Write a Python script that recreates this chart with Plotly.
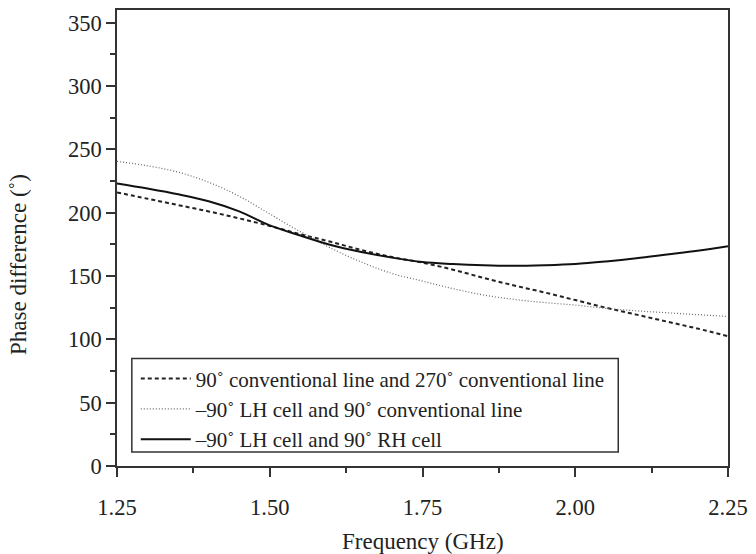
import plotly.graph_objects as go

freq = [1.25, 1.30, 1.35, 1.40, 1.45, 1.50, 1.55, 1.60, 1.65, 1.70, 1.75,
        1.80, 1.85, 1.90, 1.95, 2.00, 2.05, 2.10, 2.15, 2.20, 2.25]

conv_conv = [216, 211, 206, 201, 195.5, 189.5, 183, 177, 170.5, 165, 160.5,
             155, 148.5, 142.5, 137, 131, 125, 119.5, 114, 108.5, 102.5]
lh_conv = [240.5, 237, 232, 224, 213, 199, 185, 172, 161, 152, 146,
           140, 135, 131.5, 129, 127, 124.5, 122.5, 121, 119.5, 118]
lh_rh = [223, 219, 214.5, 209, 201, 190, 182, 174.5, 169, 164.5, 161,
         159.5, 158.5, 158, 158.5, 159.5, 161.5, 164, 167, 170, 173.5]

names = ["90\u02da conventional line and 270\u02da conventional line",
         "\u201390\u02da LH cell and 90\u02da conventional line",
         "\u201390\u02da LH cell and 90\u02da RH cell"]

x_ticks = [1.25, 1.50, 1.75, 2.00, 2.25]
x_labels = ["1.25", "1.50", "1.75", "2.00", "2.25"]
y_ticks = [0, 50, 100, 150, 200, 250, 300, 350]

FONT = "Liberation Serif"
AX = "#333333"
TXT = "#222222"

fig = go.Figure()
fig.add_trace(go.Scatter(x=freq, y=conv_conv, mode="lines", name=names[0],
                         line=dict(color="#222222", width=2, dash="4px,3px", shape="spline")))
fig.add_trace(go.Scatter(x=freq, y=lh_conv, mode="lines", name=names[1],
                         line=dict(color="#666666", width=1.2, dash="1px,2px", shape="spline")))
fig.add_trace(go.Scatter(x=freq, y=lh_rh, mode="lines", name=names[2],
                         line=dict(color="#111111", width=2, shape="spline")))

# legend frame (drawn as a shape so its size matches the reference)
fig.add_shape(type="rect", xref="paper", yref="paper",
              x0=(132 - 117) / 618, x1=(624 - 117) / 618,
              y0=(466 - 452) / 458, y1=(466 - 358) / 458,
              line=dict(color=AX, width=1.5), fillcolor="white", layer="below")

fig.add_annotation(text="Phase difference (\u02da)", xref="paper", yref="paper",
                   x=(18 - 117) / 618, y=(466 - 264) / 458, textangle=-90,
                   showarrow=False, xanchor="center", yanchor="middle",
                   font=dict(family=FONT, size=23, color=TXT))
fig.add_annotation(text="Frequency (GHz)", xref="paper", yref="paper",
                   x=0.5, y=(466 - 542) / 458, showarrow=False,
                   xanchor="center", yanchor="middle",
                   font=dict(family=FONT, size=23, color=TXT))

fig.update_layout(
    width=756, height=554,
    margin=dict(l=117, r=21, t=8, b=88),
    paper_bgcolor="white", plot_bgcolor="white",
    font=dict(family=FONT, color=TXT, size=21),
    showlegend=True,
    legend=dict(x=(136 - 117) / 618, y=0.236, xanchor="left", yanchor="top",
                bgcolor="rgba(0,0,0,0)", borderwidth=0,
                font=dict(family=FONT, size=21, color=TXT),
                itemwidth=50, tracegroupgap=0),
)
fig.update_xaxes(
    range=[1.25, 2.25], tickvals=x_ticks, ticktext=x_labels,
    showgrid=False, zeroline=False,
    showline=True, linecolor=AX, linewidth=1.5, mirror=True,
    ticks="outside", ticklen=9, tickwidth=1.5, tickcolor=AX,
    tickfont=dict(family=FONT, size=22.5, color=TXT),
    ticklabelstandoff=11,
    minor=dict(ticks="outside", ticklen=5, tickwidth=1.5, tickcolor=AX, dtick=0.125, tick0=1.25),
)
fig.update_yaxes(
    range=[0, 360], tickvals=y_ticks,
    showgrid=False, zeroline=False,
    showline=True, linecolor=AX, linewidth=1.5, mirror=True,
    ticks="outside", ticklen=9, tickwidth=1.5, tickcolor=AX,
    tickfont=dict(family=FONT, size=22.5, color=TXT),
    minor=dict(ticks="outside", ticklen=5, tickwidth=1.5, tickcolor=AX, dtick=25, tick0=0),
)

fig.write_html("out.html")
